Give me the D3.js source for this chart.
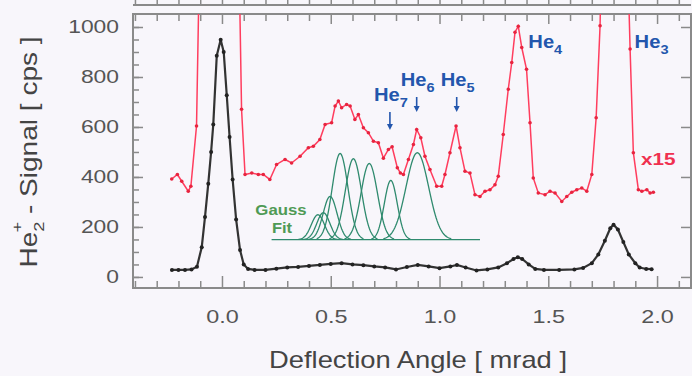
<!DOCTYPE html>
<html>
<head>
<meta charset="utf-8">
<script src="https://cdn.jsdelivr.net/npm/d3@7"></script>
<style>
  body { margin: 0; background: #f8f6fb; }
  svg { display: block; font-family: "Liberation Sans", Arial, Helvetica, sans-serif; }
</style>
</head>
<body>
<svg id="chart" width="692" height="376"></svg>
<script>
// ---- data ----
// He2+ signal, raw
var rawAngle = [-0.23, -0.2, -0.17, -0.14, -0.115, -0.093, -0.078, -0.063, -0.05, -0.04, -0.024, -0.006, 0.008, 0.022, 0.035, 0.049, 0.065, 0.083, 0.1, 0.12,
  0.15, 0.2, 0.25, 0.3, 0.35, 0.4, 0.45, 0.5, 0.55, 0.6, 0.65, 0.7, 0.75, 0.8, 0.85, 0.9, 0.95, 1.0, 1.05, 1.08,
  1.12, 1.17, 1.22, 1.27, 1.31, 1.34, 1.36, 1.38, 1.41, 1.44, 1.48, 1.55, 1.62, 1.66, 1.7, 1.73, 1.76, 1.785, 1.8, 1.82,
  1.845, 1.87, 1.9, 1.92, 1.95, 1.975];
var rawCps = [28, 28, 28, 30, 41, 119, 240, 373, 500, 610, 885, 949, 900, 727, 560, 390, 230, 108, 50, 32,
  28, 28, 33, 38, 40, 44, 48, 52, 55, 50, 47, 42, 38, 30, 40, 48, 42, 35, 42, 48,
  38, 26, 30, 38, 55, 72, 79, 72, 50, 32, 28, 28, 30, 36, 55, 90, 145, 195, 209, 190,
  140, 90, 55, 38, 32, 31];

// same signal magnified x15
var magAngle = [-0.231, -0.205, -0.185, -0.155, -0.143, -0.117, -0.093,
  0.07, 0.09, 0.106, 0.137, 0.167, 0.19, 0.22, 0.251, 0.29, 0.32, 0.359, 0.397, 0.42, 0.45, 0.474, 0.504, 0.52, 0.535,
  0.55, 0.573, 0.589, 0.611, 0.627, 0.65, 0.673, 0.696, 0.719, 0.742, 0.765, 0.782, 0.806, 0.82, 0.834, 0.857, 0.88, 0.895,
  0.914, 0.933, 0.956, 0.987, 1.01, 1.025, 1.048, 1.076, 1.094, 1.117, 1.14, 1.163, 1.186, 1.209, 1.232, 1.255, 1.27, 1.293,
  1.316, 1.332, 1.347, 1.362, 1.378, 1.4, 1.416, 1.431, 1.454, 1.485, 1.508, 1.531, 1.562, 1.585, 1.608, 1.631, 1.654, 1.677,
  1.7, 1.72, 1.738, 1.76,
  1.855, 1.876, 1.891, 1.914, 1.93, 1.953, 1.968, 1.983];
var magCps = [392, 410, 383, 343, 363, 604, 1785,
  1700, 671, 410, 416, 410, 410, 390, 450, 470, 456, 483, 517, 523, 550, 610, 617, 684, 704,
  677, 690, 684, 630, 650, 597, 577, 543, 537, 475, 510, 521, 437, 416, 410, 470, 530, 590,
  557, 483, 430, 363, 363, 410, 497, 604, 517, 423, 416, 329, 322, 343, 349, 369, 403, 570,
  751, 858, 979, 1003, 918, 831, 617, 396, 336, 329, 343, 336, 302, 322, 339, 349, 356, 343,
  410, 637, 1005, 2100,
  1600, 912, 497, 349, 343, 349, 336, 339];

// Gauss fit components
var gaussCenter = [0.441, 0.466, 0.497, 0.543, 0.604, 0.677, 0.776, 0.898];
var gaussHeight = [100, 108, 173, 345, 324, 305, 237, 348];
var gaussSigma  = [0.03, 0.03, 0.032, 0.036, 0.037, 0.038, 0.03, 0.052];
var gaussBase = 149;
var gaussSpan = [0.228, 1.186];

// cluster labels
var clusterN   = ["7", "6", "5", "4", "3"];
var clusterPos = [0.772, 0.895, 1.079, 1.362, 1.8];

var xTickLabels = [0, 0.5, 1.0, 1.5, 2.0];
var yTickLabels = [0, 200, 400, 600, 800, 1000];

// ---- layout ----
var svg = d3.select("#chart");
var L = 133, R = 691, T = 14, B = 288;

var x = d3.scaleLinear().domain([-0.409, 2.156]).range([L, R]);
var y = d3.scaleLinear().domain([-44.2, 1052]).range([B, T]);

var grey = "#8a8a8a";
var ink = "#555";

svg.append("rect").attr("width", 692).attr("height", 376).attr("fill", "#f8f6fb");

svg.append("defs").append("clipPath").attr("id", "plot")
  .append("rect").attr("x", L).attr("y", T).attr("width", R - L).attr("height", B - T);

// upper panel remnant at the very top
svg.append("line").attr("x1", L).attr("x2", R).attr("y1", 5).attr("y2", 5)
  .attr("stroke", grey).attr("stroke-width", 2);
svg.append("g").attr("transform", "translate(0,5)")
  .call(d3.axisTop(x).tickValues(d3.range(-0.4, 2.16, 0.1)).tickSize(5).tickFormat(""))
  .call(function (g) { g.select(".domain").remove(); g.selectAll("line").attr("stroke", grey).attr("stroke-width", 1.5); });

// axes (ticks point inward)
function styleAxis(g) {
  g.select(".domain").remove();
  g.selectAll("line").attr("stroke", grey).attr("stroke-width", 1.5);
}
var minorX = d3.range(-0.4, 2.16, 0.1).filter(function (v) { return Math.abs(v * 2 - Math.round(v * 2)) > 0.01; });
var majorX = d3.range(-0.0, 2.16, 0.5);

svg.append("g").attr("transform", "translate(0," + B + ")")
  .call(d3.axisBottom(x).tickValues(minorX).tickSize(-7).tickFormat("")).call(styleAxis);
svg.append("g").attr("transform", "translate(0," + B + ")")
  .call(d3.axisBottom(x).tickValues(xTickLabels).tickSize(-12).tickPadding(22).tickFormat(d3.format(".1f")))
  .call(styleAxis)
  .call(function (g) {
    g.selectAll("text").attr("fill", ink).style("font-size", "18px").attr("transform", "scale(1.3,1)");
  });

svg.append("g").attr("transform", "translate(0," + T + ")")
  .call(d3.axisTop(x).tickValues(minorX).tickSize(-7).tickFormat("")).call(styleAxis);
svg.append("g").attr("transform", "translate(0," + T + ")")
  .call(d3.axisTop(x).tickValues(majorX).tickSize(-10).tickFormat("")).call(styleAxis);

svg.append("g").attr("transform", "translate(" + L + ",0)")
  .call(d3.axisLeft(y).tickValues(d3.range(0, 1001, 50)).tickSize(-6).tickFormat("")).call(styleAxis);
svg.append("g").attr("transform", "translate(" + L + ",0)")
  .call(d3.axisLeft(y).tickValues(yTickLabels).tickSize(-10).tickPadding(11).tickFormat(d3.format("d")))
  .call(styleAxis)
  .call(function (g) {
    g.selectAll("text").attr("fill", ink).style("font-size", "18px").attr("transform", "scale(1.27,1)");
  });

svg.append("g").attr("transform", "translate(" + R + ",0)")
  .call(d3.axisRight(y).tickValues(d3.range(0, 1001, 200)).tickSize(-10).tickFormat("")).call(styleAxis);

svg.append("rect").attr("x", L).attr("y", T).attr("width", R - L).attr("height", B - T)
  .attr("fill", "none").attr("stroke", grey).attr("stroke-width", 2);

// ---- series ----
var plot = svg.append("g").attr("clip-path", "url(#plot)");

var line = d3.line().x(function (d) { return x(d[0]); }).y(function (d) { return y(d[1]); });

// gauss fit
var gaussCol = "#2f8a6e";
plot.append("line")
  .attr("x1", x(gaussSpan[0])).attr("x2", x(gaussSpan[1]))
  .attr("y1", y(gaussBase)).attr("y2", y(gaussBase))
  .attr("stroke", gaussCol).attr("stroke-width", 1.3);
gaussCenter.forEach(function (c, i) {
  var s = gaussSigma[i], h = gaussHeight[i];
  var pts = d3.range(c - 3 * s, c + 3 * s + 1e-9, s / 12).map(function (v) {
    return [v, gaussBase + h * Math.exp(-0.5 * Math.pow((v - c) / s, 2))];
  });
  plot.append("path").attr("d", line(pts))
    .attr("fill", "none").attr("stroke", gaussCol).attr("stroke-width", 1.3);
});

// x15 trace
var red = "#ff3d5e";
var mag = magAngle.map(function (a, i) { return [a, magCps[i]]; });
plot.append("path").attr("d", line(mag))
  .attr("fill", "none").attr("stroke", red).attr("stroke-width", 1.5);
plot.selectAll(".md").data(mag).enter().append("circle")
  .attr("cx", function (d) { return x(d[0]); }).attr("cy", function (d) { return y(d[1]); })
  .attr("r", 1.8).attr("fill", "#e8243f");

// raw trace
var raw = rawAngle.map(function (a, i) { return [a, rawCps[i]]; });
plot.append("path").attr("d", line(raw))
  .attr("fill", "none").attr("stroke", "#333").attr("stroke-width", 2.2);
plot.selectAll(".rd").data(raw).enter().append("circle")
  .attr("cx", function (d) { return x(d[0]); }).attr("cy", function (d) { return y(d[1]); })
  .attr("r", 2).attr("fill", "#222");

// ---- labels ----
var blue = "#2356ad";
function heLabel(n, cx, base) {
  var t = svg.append("text")
    .attr("transform", "translate(" + cx + "," + base + ") scale(1.12,1)")
    .attr("text-anchor", "middle").attr("fill", blue)
    .style("font-size", "18px").style("font-weight", "bold");
  t.append("tspan").text("He");
  t.append("tspan").attr("dy", 6).style("font-size", "13px").text(n);
}
function arrow(ax, y0, y1) {
  svg.append("line").attr("x1", ax).attr("x2", ax).attr("y1", y0).attr("y2", y1 - 4)
    .attr("stroke", blue).attr("stroke-width", 1.6);
  svg.append("path").attr("d", "M" + (ax - 3) + "," + (y1 - 6) + "L" + (ax + 3) + "," + (y1 - 6) + "L" + ax + "," + y1 + "Z")
    .attr("fill", blue);
}
var labelBase = [101, 86, 86];
var arrowTop = [112, 97, 97];
var arrowTip = [130, 112, 112];
for (var i = 0; i < 3; i++) {
  var ax = x(clusterPos[i]);
  heLabel(clusterN[i], ax + 1, labelBase[i]);
  arrow(ax, arrowTop[i], arrowTip[i]);
}
heLabel(clusterN[3], x(clusterPos[3]) + 27, 48);
heLabel(clusterN[4], x(clusterPos[4]) + 38, 48);

svg.append("text").attr("transform", "translate(641,165) scale(1.22,1)")
  .attr("fill", "#f0304f").style("font-size", "17px").style("font-weight", "bold").text("x15");

var green = "#4f9a55";
svg.append("text").attr("transform", "translate(281,215) scale(1.12,1)").attr("text-anchor", "middle")
  .attr("fill", green).style("font-size", "15px").style("font-weight", "bold").text("Gauss");
svg.append("text").attr("transform", "translate(282,233) scale(1.1,1)").attr("text-anchor", "middle")
  .attr("fill", green).style("font-size", "15px").style("font-weight", "bold").text("Fit");

// axis titles
svg.append("text").attr("transform", "translate(418,368) scale(1.19,1)").attr("text-anchor", "middle")
  .attr("fill", "#444").style("font-size", "23px").text("Deflection Angle [ mrad ]");

var yt = svg.append("text").attr("transform", "translate(37,152) rotate(-90) scale(1.22,1)")
  .attr("text-anchor", "middle").attr("fill", "#444").style("font-size", "23px");
yt.append("tspan").text("He");
yt.append("tspan").attr("dy", 7).style("font-size", "15px").text("2");
yt.append("tspan").attr("dx", -9).attr("dy", -22).style("font-size", "15px").text("+");
yt.append("tspan").attr("dy", 15).text(" - Signal [ cps ]");
</script>
</body>
</html>
